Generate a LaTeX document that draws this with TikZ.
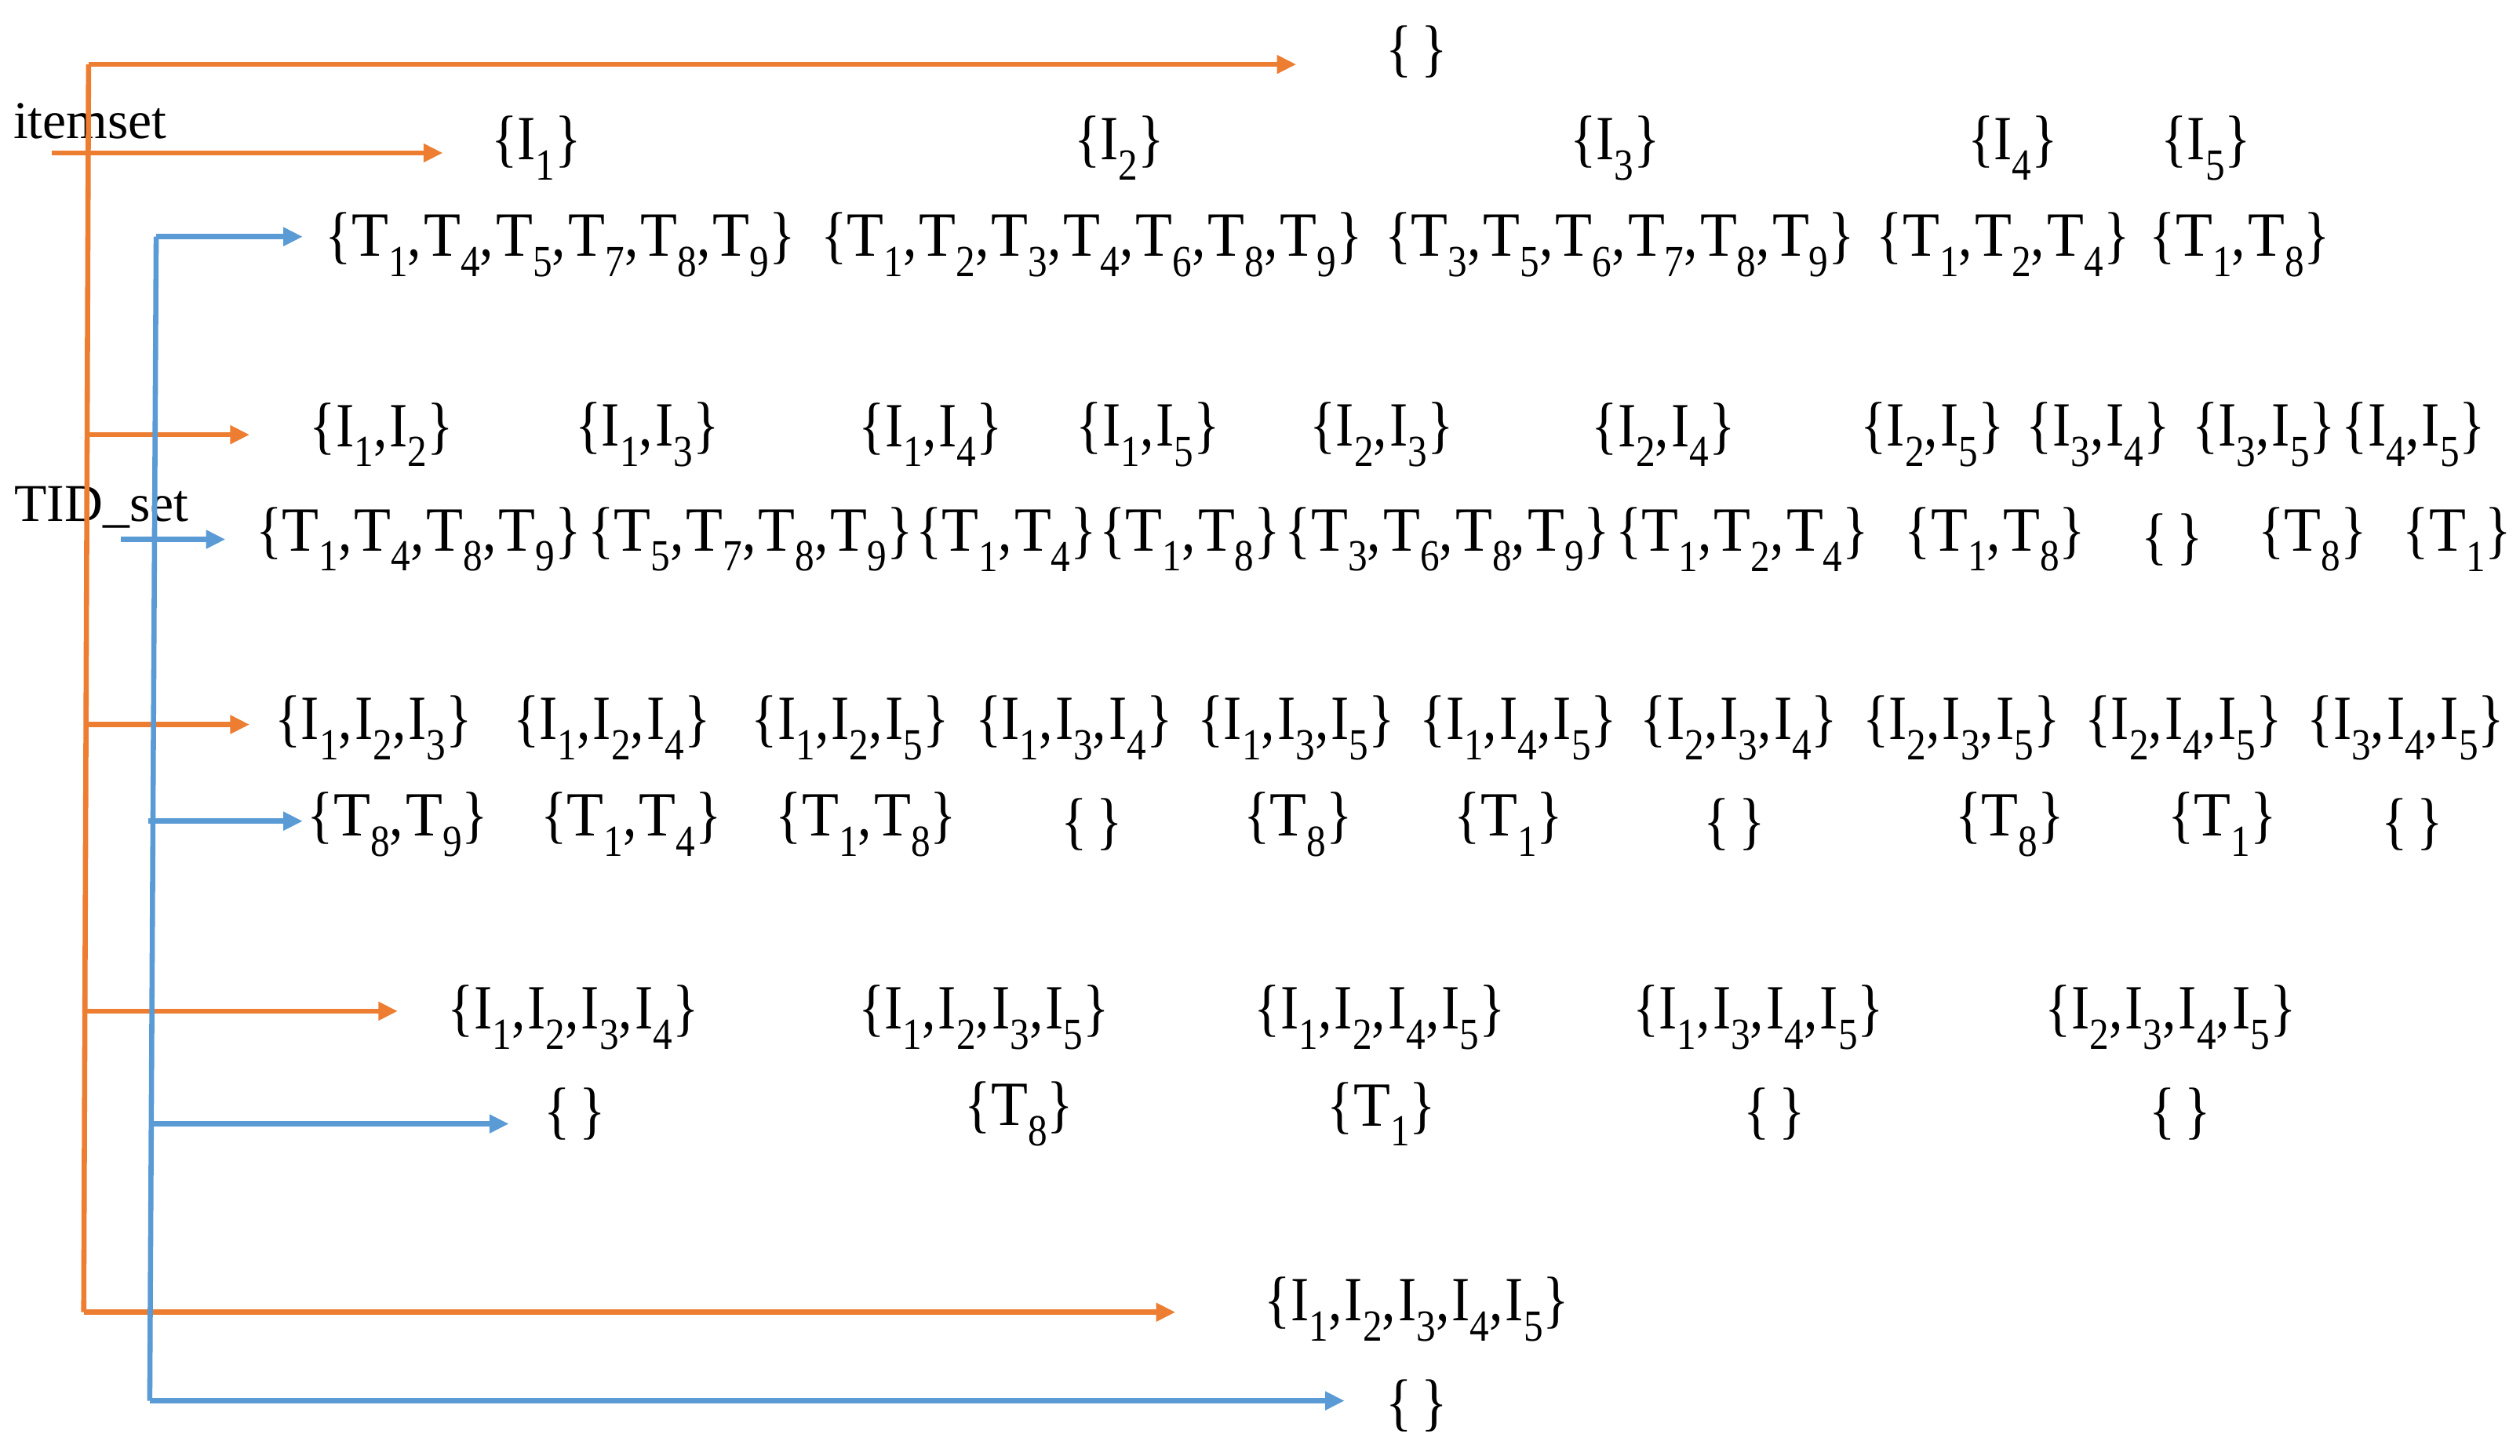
\documentclass[tikz,border=0pt]{standalone}
\usepackage{graphicx}
\usepackage{fontspec}
\setmainfont{Liberation Serif}
\usetikzlibrary{arrows.meta}
\definecolor{orng}{RGB}{237,125,49}
\definecolor{blu}{RGB}{91,155,213}
\newcommand\sbs[1]{\raisebox{-0.32em}{\fontsize{24}{24}\selectfont #1}}
\newcommand\Iv[1]{I\sbs{#1}}
\newcommand\Tv[1]{\scalebox{1.1}[1]{T}\sbs{#1}}
\newcommand\cm{,\kern1.5pt}
\newcommand\emp{\{\,\}}
\newcommand\St[1]{\scalebox{1}[1.15]{#1}}
\begin{document}
\begin{tikzpicture}[x=1pt,y=-1pt,
  lbl/.style={inner sep=0pt,font=\fontsize{33}{40}\selectfont},
  st/.style={inner sep=0pt,font=\fontsize{34}{40}\selectfont},
  oline/.style={draw=orng,line width=3.2pt},
  bline/.style={draw=blu,line width=3.2pt},
  oarr/.style={oline,-{Triangle[length=12pt,width=11pt]}},
  barr/.style={bline,-{Triangle[length=12pt,width=11pt]}}]
\useasboundingbox (0,0) rectangle (1565,904);

% labels
\node[lbl] (itemset) at (56,75) {itemset};
\node[lbl] (tidset) at (63,315) {TID\_set};

% level 0
\node[st] (e0) at (880,32) {\St{\emp}};
% level 1
\node[st] (i1) at (333,92) {\St{\{\Iv1\}}};
\node[st] (i2) at (695,92) {\St{\{\Iv2\}}};
\node[st] (i3) at (1003,92) {\St{\{\Iv3\}}};
\node[st] (i4) at (1250,92) {\St{\{\Iv4\}}};
\node[st] (i5) at (1370,92) {\St{\{\Iv5\}}};
\node[st] (t1) at (348,152) {\St{\{\Tv1\cm\Tv4\cm\Tv5\cm\Tv7\cm\Tv8\cm\Tv9\}}};
\node[st] (t2) at (678,152) {\St{\{\Tv1\cm\Tv2\cm\Tv3\cm\Tv4\cm\Tv6\cm\Tv8\cm\Tv9\}}};
\node[st] (t3) at (1006,152) {\St{\{\Tv3\cm\Tv5\cm\Tv6\cm\Tv7\cm\Tv8\cm\Tv9\}}};
\node[st] (t4) at (1244,152) {\St{\{\Tv1\cm\Tv2\cm\Tv4\}}};
\node[st] (t5) at (1391,152) {\St{\{\Tv1\cm\Tv8\}}};
% level 2
\node[st] (i12) at (237,270) {\St{\{\Iv1\cm\Iv2\}}};
\node[st] (i13) at (402,270) {\St{\{\Iv1\cm\Iv3\}}};
\node[st] (i14) at (578,270) {\St{\{\Iv1\cm\Iv4\}}};
\node[st] (i15) at (713,270) {\St{\{\Iv1\cm\Iv5\}}};
\node[st] (i23) at (858,270) {\St{\{\Iv2\cm\Iv3\}}};
\node[st] (i24) at (1033,270) {\St{\{\Iv2\cm\Iv4\}}};
\node[st] (i25) at (1200,270) {\St{\{\Iv2\cm\Iv5\}}};
\node[st] (i34) at (1303,270) {\St{\{\Iv3\cm\Iv4\}}};
\node[st] (i35) at (1406,270) {\St{\{\Iv3\cm\Iv5\}}};
\node[st] (i45) at (1499,270) {\St{\{\Iv4\cm\Iv5\}}};
\node[st] (t12) at (260,335) {\St{\{\Tv1\cm\Tv4\cm\Tv8\cm\Tv9\}}};
\node[st] (t13) at (466,335) {\St{\{\Tv5\cm\Tv7\cm\Tv8\cm\Tv9\}}};
\node[st] (t14) at (625,335) {\St{\{\Tv1\cm\Tv4\}}};
\node[st] (t15) at (739,335) {\St{\{\Tv1\cm\Tv8\}}};
\node[st] (t23) at (899,335) {\St{\{\Tv3\cm\Tv6\cm\Tv8\cm\Tv9\}}};
\node[st] (t24) at (1082,335) {\St{\{\Tv1\cm\Tv2\cm\Tv4\}}};
\node[st] (t25) at (1239,335) {\St{\{\Tv1\cm\Tv8\}}};
\node[st] (t34) at (1349,335) {\St{\emp}};
\node[st] (t35) at (1436,335) {\St{\{\Tv8\}}};
\node[st] (t45) at (1526,335) {\St{\{\Tv1\}}};
% level 3
\node[st] (i123) at (232,452) {\St{\{\Iv1\cm\Iv2\cm\Iv3\}}};
\node[st] (i124) at (380,452) {\St{\{\Iv1\cm\Iv2\cm\Iv4\}}};
\node[st] (i125) at (528,452) {\St{\{\Iv1\cm\Iv2\cm\Iv5\}}};
\node[st] (i134) at (667,452) {\St{\{\Iv1\cm\Iv3\cm\Iv4\}}};
\node[st] (i135) at (805,452) {\St{\{\Iv1\cm\Iv3\cm\Iv5\}}};
\node[st] (i145) at (943,452) {\St{\{\Iv1\cm\Iv4\cm\Iv5\}}};
\node[st] (i234) at (1080,452) {\St{\{\Iv2\cm\Iv3\cm\Iv4\}}};
\node[st] (i235) at (1218,452) {\St{\{\Iv2\cm\Iv3\cm\Iv5\}}};
\node[st] (i245) at (1356,452) {\St{\{\Iv2\cm\Iv4\cm\Iv5\}}};
\node[st] (i345) at (1494,452) {\St{\{\Iv3\cm\Iv4\cm\Iv5\}}};
\node[st] (t123) at (247,512) {\St{\{\Tv8\cm\Tv9\}}};
\node[st] (t124) at (392,512) {\St{\{\Tv1\cm\Tv4\}}};
\node[st] (t125) at (538,512) {\St{\{\Tv1\cm\Tv8\}}};
\node[st] (t134) at (678,512) {\St{\emp}};
\node[st] (t135) at (806,512) {\St{\{\Tv8\}}};
\node[st] (t145) at (937,512) {\St{\{\Tv1\}}};
\node[st] (t234) at (1077,512) {\St{\emp}};
\node[st] (t235) at (1248,512) {\St{\{\Tv8\}}};
\node[st] (t245) at (1380,512) {\St{\{\Tv1\}}};
\node[st] (t345) at (1498,512) {\St{\emp}};
% level 4
\node[st] (i1234) at (356,632) {\St{\{\Iv1\cm\Iv2\cm\Iv3\cm\Iv4\}}};
\node[st] (i1235) at (611,632) {\St{\{\Iv1\cm\Iv2\cm\Iv3\cm\Iv5\}}};
\node[st] (i1245) at (857,632) {\St{\{\Iv1\cm\Iv2\cm\Iv4\cm\Iv5\}}};
\node[st] (i1345) at (1092,632) {\St{\{\Iv1\cm\Iv3\cm\Iv4\cm\Iv5\}}};
\node[st] (i2345) at (1348,632) {\St{\{\Iv2\cm\Iv3\cm\Iv4\cm\Iv5\}}};
\node[st] (t1234) at (357,692) {\St{\emp}};
\node[st] (t1235) at (633,692) {\St{\{\Tv8\}}};
\node[st] (t1245) at (858,692) {\St{\{\Tv1\}}};
\node[st] (t1345) at (1102,692) {\St{\emp}};
\node[st] (t2345) at (1354,692) {\St{\emp}};
% level 5
\node[st] (i12345) at (880,813) {\St{\{\Iv1\cm\Iv2\cm\Iv3\cm\Iv4\cm\Iv5\}}};
\node[st] (t12345) at (880,873) {\St{\emp}};

% orange trunk and branches
\coordinate (otop) at (55,40);
\coordinate (obot) at (52,815);
\coordinate (o2) at (54.2,270);
\coordinate (o3) at (53.5,450);
\coordinate (o4) at (52.8,628);
\coordinate (a0) at (805,40);
\coordinate (a2) at (155,270);
\coordinate (a3) at (155,450);
\coordinate (a4) at (247,628);
\coordinate (a5) at (730,815);
\coordinate (is0) at (32,95);
\coordinate (is1) at (275,95);
\draw[oline] (otop) -- (obot);
\draw[oarr] (otop) -- (a0);
\draw[oarr] (is0) -- (is1);
\draw[oarr] (o2) -- (a2);
\draw[oarr] (o3) -- (a3);
\draw[oarr] (o4) -- (a4);
\draw[oarr] (obot) -- (a5);

% blue trunk and branches
\coordinate (btop) at (97,147);
\coordinate (bbot) at (93,870);
\coordinate (b2s) at (75,335);
\coordinate (b3s) at (92,510);
\coordinate (b4s) at (94.5,698);
\coordinate (c1) at (188,147);
\coordinate (c2) at (140,335);
\coordinate (c3) at (188,510);
\coordinate (c4) at (316,698);
\coordinate (c5) at (835,870);
\draw[bline] (btop) -- (bbot);
\draw[barr] (btop) -- (c1);
\draw[barr] (b2s) -- (c2);
\draw[barr] (b3s) -- (c3);
\draw[barr] (b4s) -- (c4);
\draw[barr] (bbot) -- (c5);
\end{tikzpicture}
\end{document}
